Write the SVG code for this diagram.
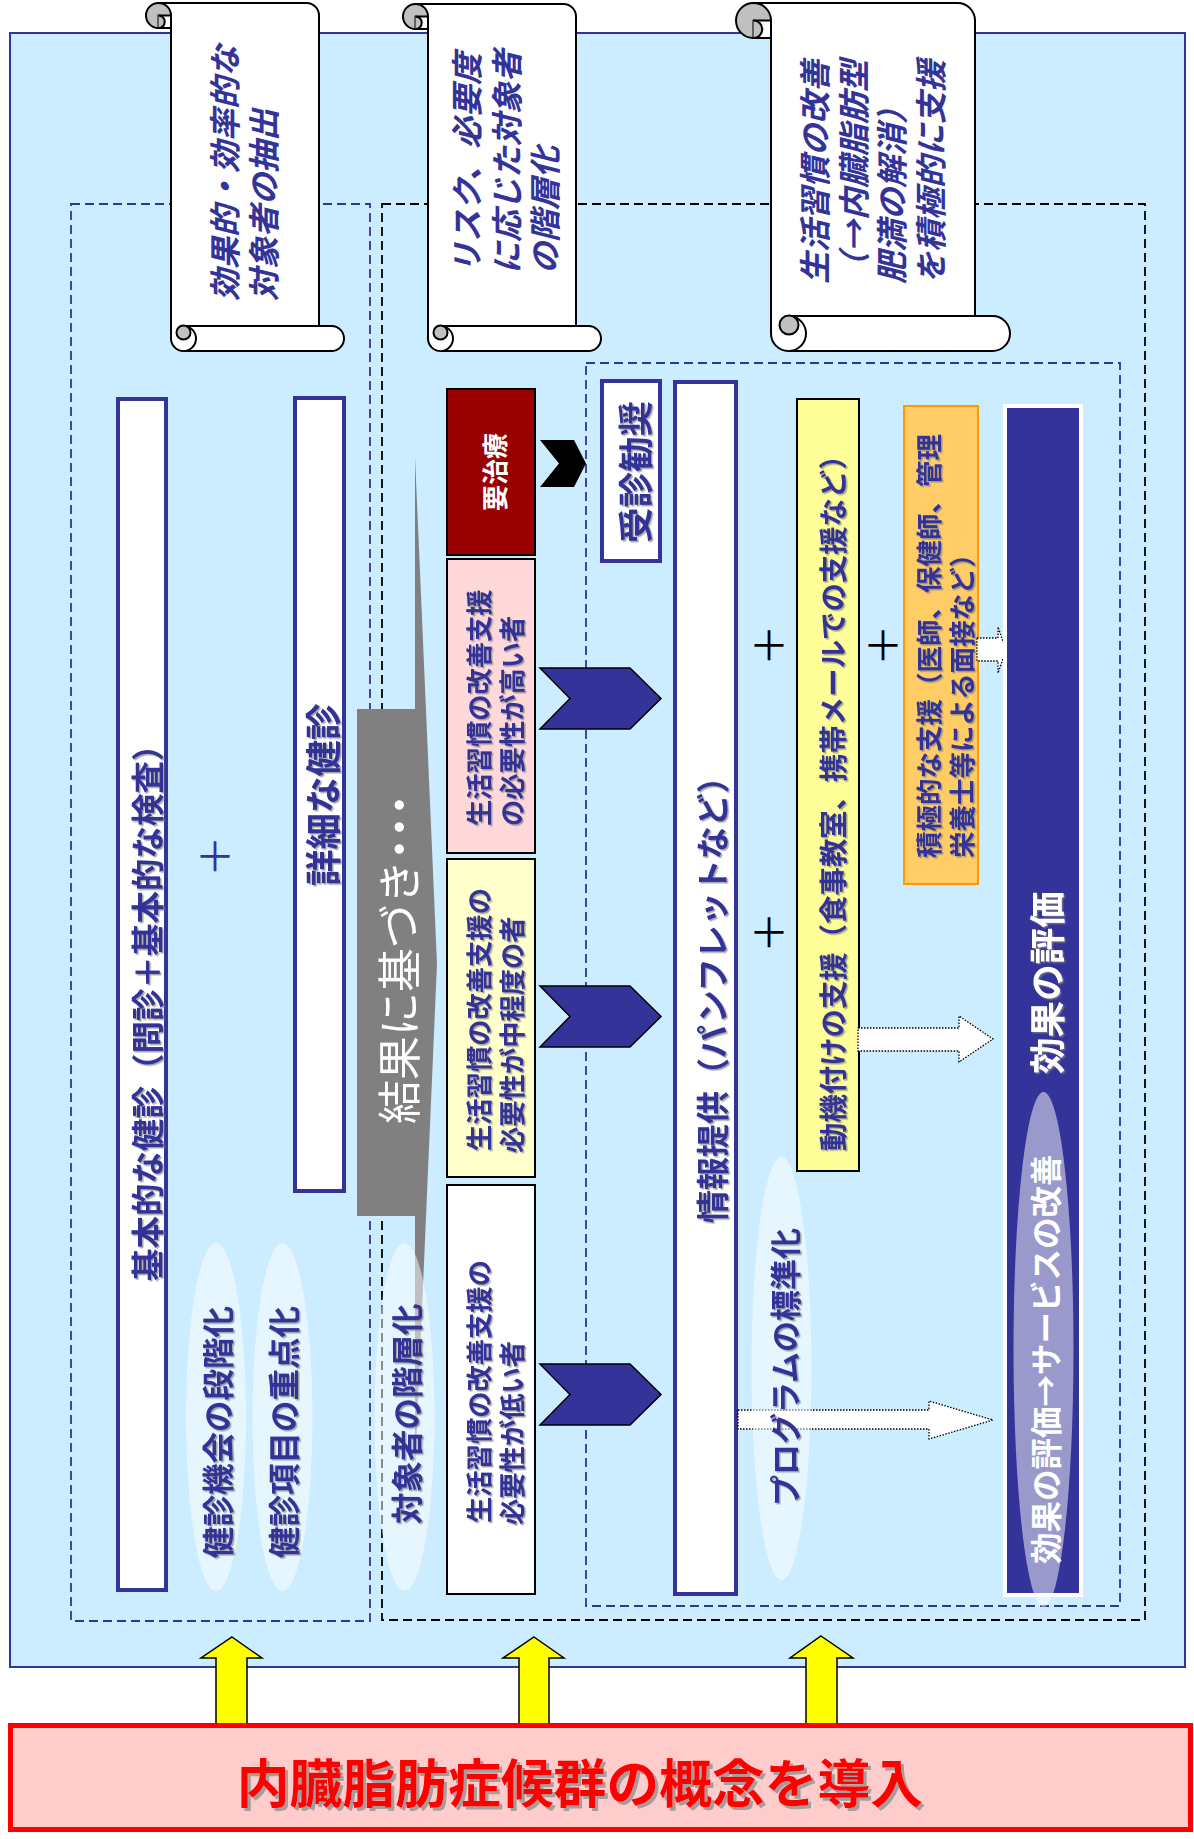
<svg xmlns="http://www.w3.org/2000/svg" width="1194" height="1839" viewBox="0 0 1194 1839">
<defs>
<style>
text{font-family:"Noto Sans CJK JP","Noto Sans CJK SC",sans-serif;}
.v{dominant-baseline:central;}
.b{font-weight:700;}
.blue{fill:#333399;}
.wh{fill:#ffffff;}
.it{font-style:italic;font-weight:700;fill:#333399;font-size:32px;dominant-baseline:central;}
.dash{fill:none;stroke-width:1.8;stroke-dasharray:9 5;}
.scroll{fill:#fff;stroke:#000;stroke-width:2;stroke-linejoin:round;}
.curl{fill:#c0c0c0;stroke:#000;stroke-width:2;}
.dot{fill:#fff;stroke:#000;stroke-width:1.3;stroke-dasharray:1.5 1.5;}
.up{fill:#ffff00;stroke:#000;stroke-width:1.5;}
.chev{fill:#333399;stroke:#000;stroke-width:1.5;}
.glow{fill:#fff;fill-opacity:0.5;}
.plus{font-size:40px;dominant-baseline:central;text-anchor:middle;}
.box{stroke:#000;stroke-width:2;}
.bbox{fill:#fff;stroke:#333399;stroke-width:4;}
</style>
<filter id="shv" x="-20%" y="-30%" width="140%" height="160%"><feDropShadow dx="-1.5" dy="1.5" stdDeviation="0.3" flood-color="#7f7f7f" flood-opacity="0.7"/></filter>
<filter id="shh" x="-10%" y="-20%" width="120%" height="140%"><feDropShadow dx="3" dy="3" stdDeviation="0.4" flood-color="#999999" flood-opacity="0.9"/></filter>
</defs>

<g id="background">
<rect x="10" y="33" width="1175" height="1634" fill="#CCECFF" stroke="#333399" stroke-width="2"/>
<rect x="71" y="204" width="299" height="1417" class="dash" stroke="#333399"/>
<rect x="382" y="204" width="763" height="1416" class="dash" stroke="#000"/>
<rect x="586" y="363" width="534" height="1243" class="dash" stroke="#333399"/>
</g>

<g id="basic-checkup">
<rect x="118" y="399" width="48" height="1191" class="bbox"/>
<text class="v b blue" font-size="32.5" filter="url(#shv)" transform="translate(145,1281) rotate(-90)">基本的な健診（問診＋基本的な検査）</text>
</g>
<g id="plus-blue"><text class="plus blue" x="215" y="854">＋</text></g>
<g id="detailed-checkup">
<rect x="295" y="398" width="49" height="793" class="bbox"/>
<text class="v b blue" font-size="36.5" filter="url(#shv)" transform="translate(321,886) rotate(-90)">詳細な健診</text>
</g>

<g id="result-based">
<polygon points="357,709 415,709 415,457 437,964 415,1470 415,1216 357,1216" fill="#808080"/>
<text class="v wh" font-size="44" filter="url(#shv)" transform="translate(397,1124) rotate(-90)">結果に基づき<tspan dx="-11" letter-spacing="-22">・・・</tspan></text>
</g>

<g id="ellipse-stage">
<ellipse cx="216" cy="1417" rx="30" ry="174" class="glow"/>
<text class="v b blue" font-size="31.5" filter="url(#shv)" transform="translate(216,1558) rotate(-90)">健診機会の段階化</text>
</g>
<g id="ellipse-focus">
<ellipse cx="282.5" cy="1417" rx="30" ry="174" class="glow"/>
<text class="v b blue" font-size="31.5" filter="url(#shv)" transform="translate(282,1558) rotate(-90)">健診項目の重点化</text>
</g>
<g id="ellipse-strata">
<ellipse cx="404.5" cy="1417" rx="30" ry="174" class="glow"/>
<text class="v b blue" font-size="31.5" filter="url(#shv)" transform="translate(405,1524) rotate(-90)">対象者の階層化</text>
</g>

<g id="need-treatment">
<rect x="447" y="389" width="88" height="166" fill="#990000" class="box"/>
<text class="v b wh" font-size="26" transform="translate(493,511) rotate(-90)">要治療</text>
</g>
<g id="need-high">
<rect x="447" y="559" width="88" height="294" fill="#FFD9D9" class="box"/>
<text class="v b blue" font-size="26.3" filter="url(#shv)" transform="translate(477,826) rotate(-90)">生活習慣の改善支援</text>
<text class="v b blue" font-size="26.3" filter="url(#shv)" transform="translate(510,826) rotate(-90)">の必要性が高い者</text>
</g>
<g id="need-mid">
<rect x="447" y="859" width="88" height="318" fill="#FFFFCC" class="box"/>
<text class="v b blue" font-size="26.3" filter="url(#shv)" transform="translate(477,1151) rotate(-90)">生活習慣の改善支援の</text>
<text class="v b blue" font-size="26.3" filter="url(#shv)" transform="translate(510,1153) rotate(-90)">必要性が中程度の者</text>
</g>
<g id="need-low">
<rect x="447" y="1185" width="88" height="409" fill="#FFFFFF" class="box"/>
<text class="v b blue" font-size="26.3" filter="url(#shv)" transform="translate(477,1523) rotate(-90)">生活習慣の改善支援の</text>
<text class="v b blue" font-size="26.3" filter="url(#shv)" transform="translate(510,1525) rotate(-90)">必要性が低い者</text>
</g>

<g id="recommend">
<rect x="602" y="381" width="58" height="180" class="bbox"/>
<text class="v b blue" font-size="35.5" filter="url(#shv)" transform="translate(633,543) rotate(-90)">受診勧奨</text>
</g>
<g id="info">
<rect x="675" y="382" width="61" height="1212" class="bbox"/>
<text class="v b blue" font-size="33" filter="url(#shv)" transform="translate(711,1223) rotate(-90)">情報提供（パンフレットなど）</text>
</g>
<g id="plus-black">
<text class="plus" x="769" y="643">＋</text>
<text class="plus" x="883" y="643">＋</text>
<text class="plus" x="769" y="930">＋</text>
</g>
<g id="motivation">
<rect x="797" y="399" width="62" height="772" fill="#FFFF99" class="box"/>
<text class="v b blue" font-size="28.4" filter="url(#shv)" transform="translate(831,1151) rotate(-90)">動機付けの支援（食事教室、携帯メールでの支援など）</text>
</g>
<g id="active-support">
<rect x="904" y="406" width="74" height="478" fill="#FFCC66" stroke="#FF9900" stroke-width="2"/>
<text class="v b blue" font-size="26.5" filter="url(#shv)" transform="translate(927,858) rotate(-90)">積極的な支援（医師、保健師、管理</text>
<text class="v b blue" font-size="26.5" filter="url(#shv)" transform="translate(960,858) rotate(-90)">栄養士等による面接など）</text>
</g>

<g id="connectors">
<polygon points="540,440 574,440 586,463.5 574,487 540,487 559,463.5" fill="#000"/>
<polygon class="chev" points="540,668 630,668 661,698.5 630,729 540,729 570,698.5"/>
<polygon class="chev" points="540,986 630,986 661,1016.5 630,1047 540,1047 570,1016.5"/>
<polygon class="chev" points="540,1364 630,1364 661,1394.5 630,1425 540,1425 570,1394.5"/>
<polygon class="dot" points="858,1028 959,1028 959,1016 993,1039 959,1062 959,1051 858,1051"/>
<polygon class="dot" points="738,1410 929,1410 929,1401 993,1420 929,1439 929,1429 738,1429"/>
<polygon class="dot" points="977,638 998,638 998,627 1006,650 998,673 998,661 977,661"/>
<polygon class="up" points="232,1637 262,1658 247,1658 247,1724 216,1724 216,1658 201,1658"/>
<polygon class="up" points="534,1637 564,1658 549,1658 549,1724 519,1724 519,1658 503,1658"/>
<polygon class="up" points="821,1636 853,1658 837,1658 837,1724 806,1724 806,1658 790,1658"/>
</g>

<g id="standardize">
<ellipse cx="781.5" cy="1368.5" rx="30" ry="211.5" class="glow"/>
<text class="v b blue" font-size="31" filter="url(#shv)" transform="translate(783,1506) rotate(-90)">プログラムの標準化</text>
</g>

<g id="evaluation">
<rect x="1005" y="406" width="76" height="1189" fill="#333399" stroke="#fff" stroke-width="4"/>
<text class="v b wh" font-size="36.6" filter="url(#shv)" transform="translate(1045,1074) rotate(-90)">効果の評価</text>
<ellipse cx="1043.5" cy="1349.5" rx="30" ry="257.5" class="glow"/>
<text class="v b wh" font-size="31.5" transform="translate(1044,1564) rotate(-90)">効果の評価→サービスの改善</text>
</g>

<g id="scroll-1">
<path class="scroll" d="M158.5,3 H306.5 A12.5,12.5 0 0 1 319,15.5 V326 H331.5 A12.5,12.5 0 0 1 331.5,351 H183.5 A12.5,12.5 0 0 1 171,338.5 V28 H158.5 Z"/>
<path class="scroll" d="M319,326 H183.5"/>
<path class="scroll" d="M183.5,326 A12.5,12.5 0 0 1 183.5,351"/>
<circle class="curl" cx="183.5" cy="332.5" r="7"/>
<circle class="curl" cx="158.5" cy="15.5" r="12.5"/>
<rect class="scroll" x="158.5" y="15.5" width="12.5" height="12.5"/>
<path class="curl" d="M158.5,15.5 A6.25,6.25 0 0 1 158.5,28"/>
<text class="it" transform="translate(223,301) rotate(-90)">効果的・効率的な</text>
<text class="it" transform="translate(262,301) rotate(-90)">対象者の抽出</text>
</g>

<g id="scroll-2">
<path class="scroll" d="M415.5,4 H563.5 A12.5,12.5 0 0 1 576,16.5 V326 H588.5 A12.5,12.5 0 0 1 588.5,351 H440.5 A12.5,12.5 0 0 1 428,338.5 V29 H415.5 Z"/>
<path class="scroll" d="M576,326 H440.5"/>
<path class="scroll" d="M440.5,326 A12.5,12.5 0 0 1 440.5,351"/>
<circle class="curl" cx="440.5" cy="332.5" r="7"/>
<circle class="curl" cx="415.5" cy="16.5" r="12.5"/>
<rect class="scroll" x="415.5" y="16.5" width="12.5" height="12.5"/>
<path class="curl" d="M415.5,16.5 A6.25,6.25 0 0 1 415.5,29"/>
<text class="it" transform="translate(465,274) rotate(-90)">リスク、必要度</text>
<text class="it" transform="translate(505,274) rotate(-90)">に応じた対象者</text>
<text class="it" transform="translate(543,274) rotate(-90)">の階層化</text>
</g>

<g id="scroll-3">
<path class="scroll" d="M753.5,3 H957.5 A17.5,17.5 0 0 1 975,20.5 V316 H992.5 A17.5,17.5 0 0 1 992.5,351 H788.5 A17.5,17.5 0 0 1 771,333.5 V38 H753.5 Z"/>
<path class="scroll" d="M975,316 H788.5"/>
<path class="scroll" d="M788.5,316 A17.5,17.5 0 0 1 788.5,351"/>
<circle class="curl" cx="789" cy="325" r="9.5"/>
<circle class="curl" cx="753.5" cy="20.5" r="17.5"/>
<rect class="scroll" x="753.5" y="20.5" width="17.5" height="17.5"/>
<path class="curl" d="M753.5,20.5 A8.75,8.75 0 0 1 753.5,38"/>
<text class="it" transform="translate(813,284) rotate(-90)">生活習慣の改善</text>
<text class="it" transform="translate(852,284) rotate(-90)">（→内臓脂肪型</text>
<text class="it" transform="translate(890,284) rotate(-90)">肥満の解消）</text>
<text class="it" transform="translate(929,284) rotate(-90)">を積極的に支援</text>
</g>

<g id="title">
<rect x="10.5" y="1725.5" width="1180" height="104" fill="#FFCCCC" stroke="#FF0000" stroke-width="5"/>
<text x="580" y="1780" font-size="52.8" font-weight="700" fill="#FF0000" text-anchor="middle" dominant-baseline="central" filter="url(#shh)">内臓脂肪症候群の概念を導入</text>
</g>
</svg>
